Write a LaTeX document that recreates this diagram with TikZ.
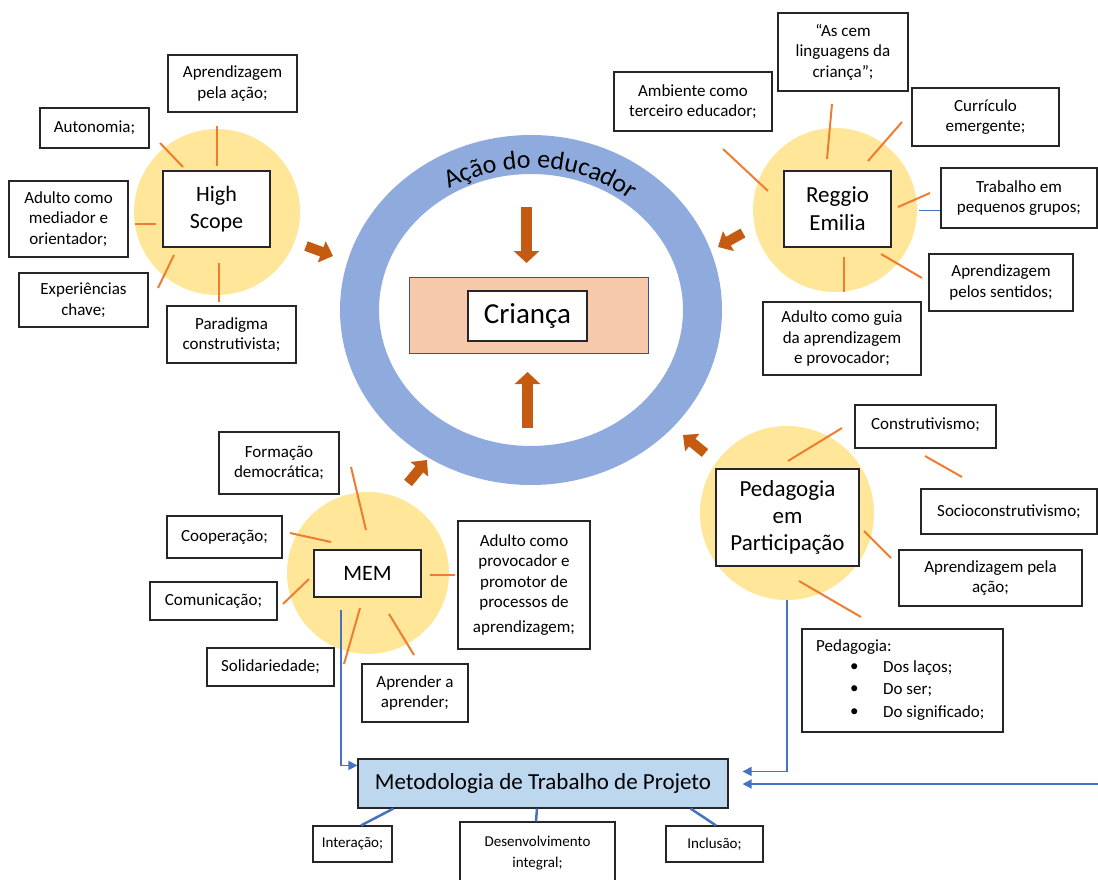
\documentclass[tikz,border=0pt]{standalone}
\usepackage{fontspec}
\setmainfont{Carlito}
\usetikzlibrary{arrows.meta,decorations.text,calc}
\definecolor{ringblue}{HTML}{8FAADC}
\definecolor{goldc}{HTML}{FFE699}
\definecolor{rayor}{HTML}{ED7D31}
\definecolor{blkor}{HTML}{C55A11}
\definecolor{crfill}{HTML}{F6C9AB}
\definecolor{crborder}{HTML}{2F5597}
\definecolor{metfill}{HTML}{BDD7EE}
\definecolor{lnblue}{HTML}{4472C4}
\begin{document}
\begin{tikzpicture}[x=1pt,y=-1pt,
  bx/.style={draw=black!85, line width=1.1pt, fill=white, align=center, inner sep=0pt, font=\fontsize{17}{20.5}\selectfont},
  bxs/.style={bx, font=\fontsize{15}{21}\selectfont},
  ttl/.style={bx, font=\fontsize{22}{27}\selectfont},
  yc/.style={circle, fill=goldc, inner sep=0pt},
  ray/.style={draw=rayor, line width=2pt},
  blk/.style={draw=blkor, line width=10pt, -{Triangle[length=12pt,width=22pt]}},
  blkc/.style={draw=blkor, line width=11pt, -{Triangle[length=12pt,width=25pt]}},
  bl/.style={draw=lnblue, line width=1.5pt, -{Triangle[length=9pt,width=9pt]}},
  bls/.style={draw=lnblue, line width=2.5pt},
  lt/.style={inner sep=0pt, anchor=west, font=\fontsize{17}{20}\selectfont}
]
\useasboundingbox (0,0) rectangle (1098,880);

% ---------- central ring ----------
\coordinate (rc) at (531,310);
\draw[ringblue, line width=39pt] (rc) ellipse [x radius=171.5, y radius=155.5];
\path[decorate, decoration={text along path, text={|\fontsize{26}{26}\selectfont|Ação do educador}, text align=center}]
  (rc) ++(212:157 and 142) arc[start angle=212, end angle=336, x radius=157, y radius=142];

\node[draw=crborder, line width=0.8pt, fill=crfill, minimum width=239pt, minimum height=76pt, inner sep=0pt] (crbg) at (528.5,315) {};
\node[bx, minimum width=119pt, minimum height=50pt, font=\fontsize{29}{30}\selectfont] (cr) at (527.5,316) {Criança};

\coordinate (dnA) at (526.5,207); \coordinate (dnB) at (526.5,263);
\draw[blkc] (dnA) -- (dnB);
\coordinate (upA) at (527.5,428); \coordinate (upB) at (527.5,372);
\draw[blkc] (upA) -- (upB);

% ---------- circles ----------
\node[yc, minimum size=166pt] (hsc) at (217,212) {};
\node[yc, minimum size=164pt] (rec) at (835,210) {};
\node[yc, minimum size=162pt] (mec) at (368,573) {};
\node[yc, minimum size=174pt] (pec) at (787,513) {};

% ---------- rays ----------
\draw[ray] (217,126) -- (217,166);
\draw[ray] (160,143) -- (183,167);
\draw[ray] (135,224) -- (156,224);
\draw[ray] (174,255) -- (158,288);
\draw[ray] (219,263) -- (219,302);

\draw[ray] (832,104) -- (827,159);
\draw[ray] (902,122) -- (868,161);
\draw[ray] (723,149) -- (768,191);
\draw[ray] (930,193) -- (898,207);
\draw[ray] (881,254) -- (922,278);
\draw[ray] (844,257) -- (844,292);
\draw[draw=lnblue, line width=1pt] (919,210) -- (941,210);

\draw[ray] (351,467) -- (366,530);
\draw[ray] (290,533) -- (331,542);
\draw[ray] (283,604) -- (309,579);
\draw[ray] (360,608) -- (344,664);
\draw[ray] (389,614) -- (414,655);
\draw[ray] (430,575) -- (455,575);

\draw[ray] (788,461) -- (842,428);
\draw[ray] (925,456) -- (962,477);
\draw[ray] (864,531) -- (891,558);
\draw[ray] (799,581) -- (861,617);

% ---------- High Scope ----------
\node[ttl, minimum width=107pt, minimum height=76pt] (hs) at (216.5,209) {High\\Scope};
\node[bx, minimum width=129pt, minimum height=57pt] (a1) at (232.5,83.5) {Aprendizagem\\pela ação;};
\node[bx, minimum width=109pt, minimum height=40pt] (a2) at (94.5,128) {Autonomia;};
\node[bx, minimum width=119pt, minimum height=76pt] (a3) at (68.5,219) {Adulto como\\mediador e\\orientador;};
\node[bx, minimum width=129pt, minimum height=54pt] (a4) at (83.5,300) {Experiências\\chave;};
\node[bx, minimum width=129pt, minimum height=57pt] (a5) at (231.5,334.5) {Paradigma\\construtivista;};

% ---------- Reggio Emilia ----------
\node[ttl, minimum width=107pt, minimum height=76pt, font=\fontsize{23}{28}\selectfont] (re) at (837.5,209) {Reggio\\Emilia};
\node[bx, minimum width=130pt, minimum height=78pt] (b1) at (843,52) {“As cem\\linguagens da\\criança”;};
\node[bx, minimum width=158pt, minimum height=59pt] (b2) at (693,101.5) {Ambiente como\\terceiro educador;};
\node[bx, minimum width=147pt, minimum height=58pt] (b3) at (985.5,117) {Currículo\\emergente;};
\node[bx, minimum width=156pt, minimum height=60pt] (b4) at (1019,198) {Trabalho em\\pequenos grupos;};
\node[bx, minimum width=144pt, minimum height=57pt] (b5) at (1001,282.5) {Aprendizagem\\pelos sentidos;};
\node[bx, minimum width=158pt, minimum height=73pt] (b6) at (842,338.5) {Adulto como guia\\da aprendizagem\\e provocador;};

% ---------- MEM ----------
\node[ttl, minimum width=107pt, minimum height=47pt] (me) at (367.5,573.5) {MEM};
\node[bx, minimum width=120pt, minimum height=62pt] (c1) at (279,463) {Formação\\democrática;};
\node[bx, minimum width=115pt, minimum height=42pt] (c2) at (224.5,537) {Cooperação;};
\node[bx, minimum width=127pt, minimum height=38pt] (c3) at (213.5,601) {Comunicação;};
\node[bx, minimum width=127pt, minimum height=38pt] (c4) at (270.5,667) {Solidariedade;};
\node[bx, minimum width=106pt, minimum height=58pt] (c5) at (415,693) {Aprender a\\aprender;};
\node[bx, minimum width=132pt, minimum height=128pt] (c6) at (524,585) {Adulto como\\provocador e\\promotor de\\processos de\\[4pt]aprendizagem;};

% ---------- Pedagogia em Participação ----------
\node[ttl, minimum width=143pt, minimum height=97pt, font=\fontsize{23}{27}\selectfont] (pe) at (787.5,517.5) {Pedagogia\\em\\Participação};
\node[bx, minimum width=141pt, minimum height=43pt] (d1) at (925.5,426.5) {\raisebox{5pt}{Construtivismo;}};
\node[bx, minimum width=176pt, minimum height=45pt] (d2) at (1009,511.5) {Socioconstrutivismo;};
\node[bx, minimum width=183pt, minimum height=56pt] (d3) at (990.5,578) {Aprendizagem pela\\ação;};
\node[bx, minimum width=201pt, minimum height=103pt] (d4) at (902.5,680.5) {};
\node[lt] (d4t) at (816,647) {Pedagogia:};
\node[lt] (d4b1) at (850,668) {•};
\node[lt] (d4b2) at (850,690) {•};
\node[lt] (d4b3) at (850,713) {•};
\node[lt] (d4l1) at (883,668) {Dos laços;};
\node[lt] (d4l2) at (883,690) {Do ser;};
\node[lt] (d4l3) at (883,713) {Do significado;};

% ---------- Metodologia ----------
\node[bx, fill=metfill, minimum width=370pt, minimum height=49pt, font=\fontsize{23}{24}\selectfont] (met) at (543,783.5) {Metodologia de Trabalho de Projeto};
\node[bxs, minimum width=79pt, minimum height=36pt] (e1) at (352.5,844) {Interação;};
\node[bxs, minimum width=155pt, minimum height=62pt] (e2) at (537.5,853) {Desenvolvimento\\integral;};
\node[bxs, minimum width=97pt, minimum height=36pt] (e3) at (714.5,844) {Inclusão;};

\draw[bls] ($(met.south west)+(36,0)$) -- ($(e1.north)+(8.5,0)$);
\draw[bls] ($(met.south)+(-6,0)$) -- ($(e2.north)+(-1.5,0)$);
\draw[bls] ($(met.south east)+(-38,0)$) -- ($(e3.north)+(1.5,0)$);

\coordinate (memdrop) at (341,610);
\draw[bl] (memdrop) |- ([yshift=-7pt]met.north west);
\coordinate (pepdrop) at (787,600);
\draw[bl] (pepdrop) |- ([xshift=14pt,yshift=-13pt]met.north east);
\coordinate (farright) at (1098,784);
\draw[bl] (farright) -- ([xshift=14pt]met.east |- farright);

% ---------- block arrows to ring ----------
\coordinate (hsA) at (306,246); \coordinate (hsB) at (333,256);
\draw[blk] (hsA) -- (hsB);
\coordinate (reA) at (743,233); \coordinate (reB) at (718,247);
\draw[blk] (reA) -- (reB);
\coordinate (meA) at (408,483); \coordinate (meB) at (427,460);
\draw[blk] (meA) -- (meB);
\coordinate (peA) at (705,453); \coordinate (peB) at (683,435);
\draw[blk] (peA) -- (peB);
\end{tikzpicture}
\end{document}
